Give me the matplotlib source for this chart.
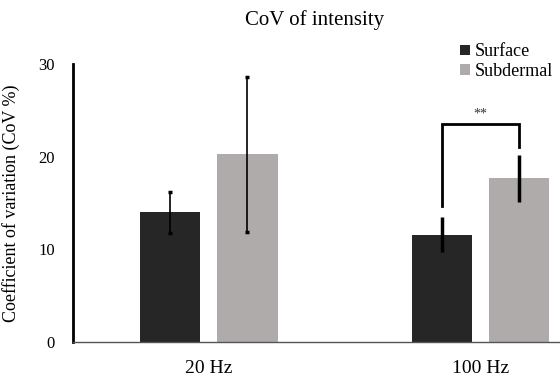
import numpy as np
import matplotlib.pyplot as plt

# values
groups = ['20 Hz', '100 Hz']
surface = [14.0, 11.6]
surface_err = [2.2, 1.85]
subdermal = [20.25, 17.65]
subdermal_err = [8.35, 2.55]
series = ['Surface', 'Subdermal']
sig_label = '**'

plt.rcParams['font.family'] = ['Liberation Serif', 'DejaVu Serif']

fig = plt.figure(figsize=(5.6, 3.77), dpi=100)
ax = fig.add_axes([0.130, 0.093, 0.870, 0.737])

x = np.arange(len(groups))
w = 0.223
off = 0.142
dark = '#262626'
light = '#afabaa'

b1 = ax.bar(x - off, surface, w, color=dark, label=series[0])
b2 = ax.bar(x + off, subdermal, w, color=light, label=series[1])

# 20 Hz error bars: thin with tiny caps
ax.errorbar([x[0] - off, x[0] + off], [surface[0], subdermal[0]],
            yerr=[surface_err[0], subdermal_err[0]], fmt='none',
            ecolor='black', elinewidth=1.2, capsize=1.5, capthick=2.5)
# 100 Hz error bars: thick, no caps
ax.errorbar([x[1] - off, x[1] + off], [surface[1], subdermal[1]],
            yerr=[surface_err[1], subdermal_err[1]], fmt='none',
            ecolor='black', elinewidth=2.5, capsize=0)

# significance bracket over 100 Hz
top = 23.5
ax.plot([x[1] - off, x[1] - off, x[1] + off, x[1] + off],
        [surface[1] + surface_err[1] + 1.2, top, top,
         subdermal[1] + subdermal_err[1] + 0.8],
        color='black', lw=2.0, solid_joinstyle='miter')
ax.text(x[1], top + 0.45, sig_label, ha='center', va='bottom', fontsize=10,
        color='#333333')

ax.set_xlim(-0.5, 1.293)
ax.set_ylim(0, 30)
ax.set_yticks([0, 10, 20, 30])
ax.set_xticks(x)
ax.set_xticklabels(groups, fontsize=14)
ax.tick_params(axis='y', length=0, pad=13, labelsize=12)
ax.tick_params(axis='x', length=0, pad=13)

for s in ['top', 'right']:
    ax.spines[s].set_visible(False)
ax.spines['left'].set_linewidth(2.0)
ax.spines['left'].set_color('black')
ax.spines['bottom'].set_linewidth(1.0)
ax.spines['bottom'].set_color('#555555')

ax.set_ylabel('Coefficient of variation (CoV %)', fontsize=13)
ax.yaxis.set_label_coords(-0.108, 0.5)

fig.text(0.5625, 0.948, 'CoV of intensity', ha='center', va='center', fontsize=15)

fig.legend(handles=[b1, b2], loc='upper left', bbox_to_anchor=(0.822, 0.885),
           frameon=False, fontsize=13, handlelength=0.55, handleheight=0.55,
           handletextpad=0.25, labelspacing=0.15, borderaxespad=0, borderpad=0)

fig.savefig('out.png', dpi=100)
